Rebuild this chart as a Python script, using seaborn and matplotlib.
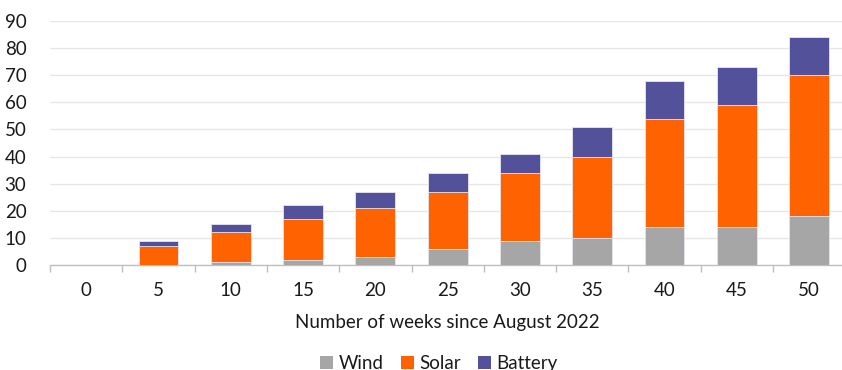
import matplotlib
matplotlib.use("Agg")
import matplotlib.pyplot as plt
from matplotlib.patches import Patch
import numpy as np
import pandas as pd
import seaborn as sns

weeks = ["0", "5", "10", "15", "20", "25", "30", "35", "40", "45", "50"]
wind = [0, 0, 1, 2, 3, 6, 9, 10, 14, 14, 18]
solar = [0, 7, 11, 15, 18, 21, 25, 30, 40, 45, 52]
battery = [0, 2, 3, 5, 6, 7, 7, 11, 14, 14, 14]

colors = {"Wind": "#a6a6a6", "Solar": "#ff6200", "Battery": "#525199"}

sns.set_theme(style="white")
plt.rcParams["font.family"] = ["Lato", "DejaVu Sans"]

df = pd.DataFrame({"week": weeks, "Wind": wind, "Solar": solar, "Battery": battery})
df["Wind_top"] = df["Wind"]
df["Solar_top"] = df["Wind"] + df["Solar"]
df["Battery_top"] = df["Solar_top"] + df["Battery"]

fig = plt.figure(figsize=(8.42, 3.70), dpi=100)
ax = fig.add_axes([50 / 842, 1 - 265 / 370, 1 - 50 / 842 + 0.004, (265 - 21) / 370])

# stacked bars drawn as overlapping cumulative layers, tallest first
for name in ["Battery", "Solar", "Wind"]:
    sns.barplot(data=df, x="week", y=f"{name}_top", color=colors[name],
                width=0.55, saturation=1, edgecolor="#e8e6f0", linewidth=0.6,
                ax=ax, zorder=3)

ax.set_ylim(0, 90)
ax.set_xlim(-0.5, 10.5)
ax.set_yticks(np.arange(0, 91, 10))
ax.yaxis.grid(True, color="#e6e6e6", linewidth=0.9, zorder=0)
ax.xaxis.grid(False)
for side in ["left", "right", "top"]:
    ax.spines[side].set_visible(False)
ax.spines["bottom"].set_color("#bfbfbf")
ax.spines["bottom"].set_linewidth(1.0)

fs = 13.5
ax.set_xticks(np.arange(len(weeks)))
ax.set_xticklabels(weeks)
ax.set_xticks(np.arange(len(weeks) + 1) - 0.5, minor=True)
ax.tick_params(axis="x", which="major", length=0, pad=12, labelsize=fs, labelcolor="#1a1a1a")
ax.tick_params(axis="x", which="minor", length=5, width=1, color="#bfbfbf", bottom=True)
ax.tick_params(axis="y", length=0, pad=17, labelsize=fs, labelcolor="#1a1a1a")
for lbl in ax.get_yticklabels():
    lbl.set_horizontalalignment("right")

ax.set_ylabel("")
ax.set_xlabel("Number of weeks since August 2022", fontsize=fs, color="#1a1a1a", labelpad=11)

handles = [Patch(facecolor=colors[n], edgecolor="none", label=n) for n in ["Wind", "Solar", "Battery"]]
fig.legend(handles=handles, loc="lower center", bbox_to_anchor=(439 / 842, -0.05), ncol=3,
           frameon=False, fontsize=fs, handlelength=0.7, handleheight=0.7,
           handletextpad=0.3, columnspacing=0.9, labelcolor="#1a1a1a")

fig.savefig("out.png", dpi=100)
